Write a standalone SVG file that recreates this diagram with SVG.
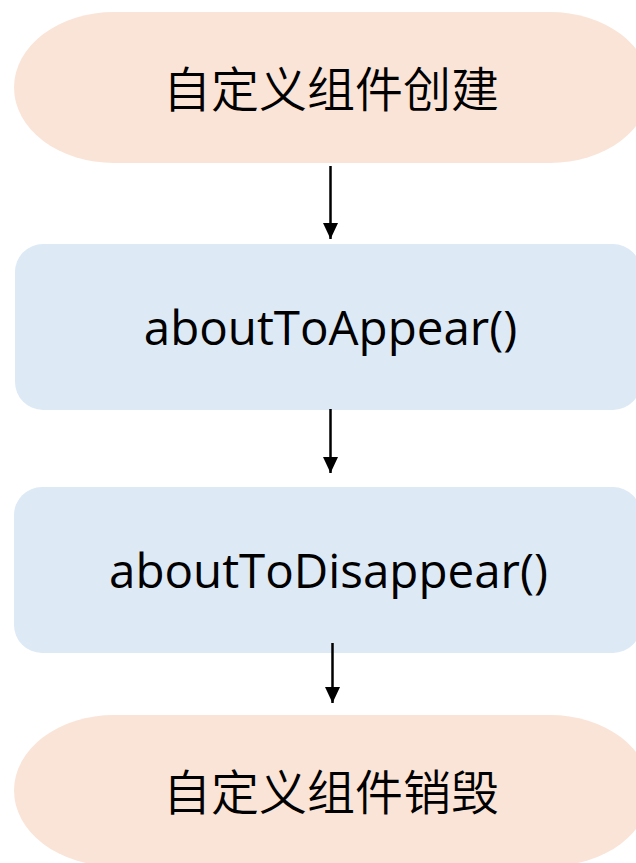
<svg xmlns="http://www.w3.org/2000/svg" width="636" height="863" viewBox="0 0 636 863">
  <style>
    .term { fill: #fae4d7; }
    .step { fill: #dde9f5; }
    .zh { font-family: "Noto Sans CJK SC", "Noto Sans", sans-serif; font-size: 48px; font-weight: 350; fill: #000; text-anchor: middle; }
    .en { font-family: "Open Sans", "Noto Sans", sans-serif; font-size: 47.5px; font-weight: 400; fill: #000; text-anchor: middle; }
    .edge { stroke: #000; stroke-width: 2.5; fill: none; marker-end: url(#arrow); }
  </style>
  <defs>
    <!-- solid triangular head; the line ends at its tip -->
    <marker id="arrow" markerUnits="userSpaceOnUse" markerWidth="16" markerHeight="15" viewBox="0 0 16 15" refX="16" refY="7.5" orient="auto">
      <path d="M0,0 L16,7.5 L0,15 Z" fill="#000"/>
    </marker>
  </defs>
  <rect width="636" height="863" fill="#fff"/>

  <g id="create">
    <rect class="term" x="14" y="12" width="636" height="151" rx="100" ry="75.5"/>
    <text class="zh" x="331" y="107">自定义组件创建</text>
  </g>

  <g id="appear">
    <rect class="step" x="15" y="244" width="626" height="166" rx="28"/>
    <text class="en" x="330.5" y="345">aboutToAppear()</text>
  </g>

  <g id="disappear">
    <rect class="step" x="14" y="487" width="627" height="166" rx="28"/>
    <text class="en" x="328.5" y="588">aboutToDisappear()</text>
  </g>

  <g id="destroy">
    <rect class="term" x="14" y="715" width="636" height="151" rx="100" ry="75.5"/>
    <text class="zh" x="331" y="810">自定义组件销毁</text>
  </g>

  <g id="connectors">
    <line class="edge" x1="330.5" y1="166" x2="330.5" y2="239"/>
    <line class="edge" x1="330.5" y1="409" x2="330.5" y2="473"/>
    <line class="edge" x1="332.5" y1="643" x2="332.5" y2="703"/>
  </g>
</svg>
